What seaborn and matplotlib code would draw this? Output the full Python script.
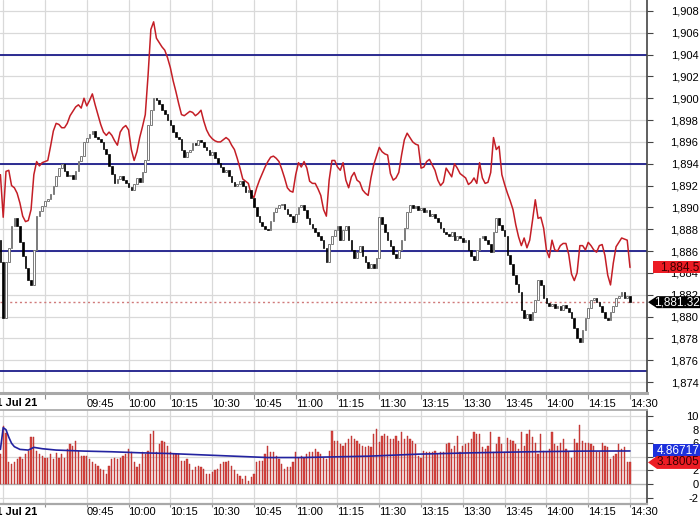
import numpy as np
import pandas as pd
import matplotlib
matplotlib.use("Agg")
import matplotlib.pyplot as plt
import matplotlib.transforms as mtransforms
from matplotlib.patches import Polygon
from matplotlib.ticker import FuncFormatter
import seaborn as sns

# Cotacoes de 1 minuto (fechamento), a abertura e o fechamento anterior
first_open = 1887.00
closes = [
    1884.99, 1879.85, 1884.99, 1886.27, 1888.28, 1889.02, 1888.28, 1886.82, 1885.53, 1884.44,
    1883.34, 1882.88, 1886.08, 1889.20, 1889.66, 1890.12, 1890.58, 1890.76, 1891.22, 1891.95,
    1892.87, 1893.60, 1893.97, 1893.33, 1892.87, 1892.96, 1892.59, 1893.33, 1894.24, 1894.70,
    1895.98, 1896.35, 1896.72, 1896.99, 1896.44, 1896.26, 1895.98, 1895.34, 1894.88, 1893.78,
    1893.05, 1892.23, 1892.59, 1892.87, 1892.50, 1892.23, 1891.86, 1891.58, 1892.13, 1892.68,
    1892.32, 1893.23, 1894.33, 1897.54, 1898.92, 1900.02, 1899.83, 1899.47, 1898.92, 1898.55,
    1898.00, 1897.54, 1896.90, 1896.44, 1896.26, 1895.25, 1894.61, 1895.07, 1895.25, 1895.89,
    1895.71, 1896.17, 1895.98, 1895.53, 1895.25, 1894.79, 1895.07, 1894.52, 1894.06, 1893.69,
    1893.23, 1893.42, 1892.87, 1892.32, 1891.95, 1892.13, 1892.41, 1891.95, 1891.40, 1891.58,
    1890.85, 1890.03, 1889.20, 1888.65, 1888.28, 1888.01, 1887.92, 1888.74, 1889.57, 1889.93,
    1890.21, 1890.30, 1889.84, 1889.38, 1889.20, 1888.65, 1889.38, 1890.03, 1890.21, 1889.75,
    1889.02, 1888.47, 1888.10, 1887.73, 1887.37, 1887.00, 1886.27, 1884.99, 1886.64, 1887.37,
    1887.92, 1888.28, 1887.00, 1887.92, 1888.28, 1887.00, 1886.08, 1885.35, 1885.90, 1886.45,
    1885.53, 1884.99, 1884.44, 1884.80, 1884.44, 1885.35, 1889.11, 1888.47, 1887.73, 1887.00,
    1886.45, 1885.72, 1885.35, 1886.08, 1887.00, 1888.10, 1889.57, 1890.21, 1889.93, 1890.12,
    1889.75, 1889.93, 1889.57, 1889.75, 1889.20, 1889.38, 1889.02, 1888.65, 1888.10, 1887.73,
    1887.55, 1887.37, 1887.73, 1887.00, 1887.37, 1887.18, 1886.82, 1887.00, 1886.08, 1885.53,
    1885.17, 1886.08, 1887.18, 1887.37, 1887.00, 1886.64, 1885.90, 1887.73, 1889.02, 1888.38,
    1887.92, 1887.37, 1885.63, 1884.80, 1883.79, 1882.97, 1882.24, 1880.59, 1879.85, 1880.22,
    1879.67, 1880.40, 1881.50, 1883.34, 1882.88, 1881.69, 1881.23, 1880.95, 1881.14, 1880.77,
    1880.95, 1880.59, 1881.04, 1880.77, 1880.40, 1879.85, 1878.94, 1878.02, 1877.65, 1878.75,
    1879.85, 1880.77, 1881.50, 1881.69, 1881.32, 1880.95, 1880.40, 1879.85, 1879.67, 1880.40,
    1880.95, 1881.69, 1881.87, 1882.24, 1881.69, 1881.87, 1881.32,
]

# Serie de comparacao (linha vermelha)
red_line = [
    1893.0, 1889.1, 1893.3, 1893.4, 1892.0, 1891.8, 1891.3, 1890.4, 1889.2, 1888.7,
    1888.8, 1889.8, 1893.0, 1894.2, 1893.8, 1894.1, 1894.2, 1894.3, 1895.6, 1897.0,
    1897.7, 1897.6, 1897.3, 1897.3, 1897.7, 1898.4, 1898.8, 1899.2, 1899.4, 1899.1,
    1900.0, 1899.3, 1899.8, 1900.4, 1899.4, 1898.5, 1897.6, 1896.9, 1896.6, 1896.9,
    1896.6, 1896.1, 1895.7, 1896.9, 1897.3, 1897.5, 1897.1, 1895.3, 1894.3, 1895.1,
    1896.4, 1897.4, 1898.5, 1902.1, 1906.3, 1907.0, 1905.5, 1905.1, 1904.7, 1904.4,
    1903.7, 1902.8, 1901.6, 1900.6, 1899.5, 1898.5, 1898.4, 1898.6, 1898.8, 1898.7,
    1898.4, 1898.6, 1898.9, 1897.9, 1897.1, 1896.6, 1896.3, 1896.1, 1896.0, 1896.0,
    1896.2, 1896.4, 1896.2, 1895.7, 1895.3, 1894.5, 1893.6, 1892.6, 1892.4, 1892.2,
    1891.2, 1890.9, 1891.8, 1892.5, 1893.1, 1893.7, 1894.2, 1894.6, 1894.7, 1894.5,
    1894.2, 1893.5, 1892.7, 1891.8, 1891.5, 1891.4, 1893.0, 1894.1, 1893.7, 1894.2,
    1893.6, 1892.4, 1892.2, 1892.2, 1891.7, 1891.1, 1889.8, 1889.2, 1892.5, 1894.3,
    1894.3, 1893.7, 1893.4, 1894.1, 1892.5, 1891.8, 1892.8, 1893.2, 1892.5, 1892.3,
    1891.6, 1891.3, 1891.1, 1892.7, 1893.9, 1894.7, 1895.5, 1895.1, 1894.9, 1894.8,
    1893.1, 1892.5, 1892.7, 1893.2, 1894.8, 1896.2, 1896.8, 1896.4, 1896.0, 1895.8,
    1895.7, 1893.6, 1893.7, 1894.2, 1894.4, 1893.9, 1893.4, 1892.5, 1892.0, 1892.3,
    1893.6, 1893.2, 1892.8, 1894.0, 1893.6, 1893.1, 1892.9, 1892.7, 1892.1, 1892.3,
    1892.7, 1892.2, 1894.1, 1892.7, 1892.2, 1892.3, 1893.2, 1896.4, 1895.3, 1895.6,
    1893.0, 1892.1, 1891.3, 1890.6, 1889.8, 1888.4, 1887.3, 1886.5, 1887.2, 1886.3,
    1887.0, 1888.8, 1890.7, 1889.0, 1889.1, 1888.1, 1886.1, 1885.4, 1887.0, 1886.1,
    1886.0, 1886.5, 1886.7, 1886.7, 1885.7, 1883.9, 1883.3, 1884.0, 1886.5, 1886.5,
    1886.1, 1886.8, 1886.5, 1886.1, 1885.9, 1886.5, 1886.6, 1885.6, 1883.8, 1882.9,
    1884.9, 1886.4, 1886.8, 1887.2, 1887.1, 1887.0, 1884.5,
]

# Volume por minuto
volume = [
    4.4, 8.6, 7.5, 3.2, 2.9, 3.2, 3.7, 4.0, 3.7, 4.4,
    4.9, 6.9, 6.9, 4.9, 4.4, 4.2, 3.9, 3.9, 4.4, 3.7,
    4.5, 3.9, 4.4, 3.9, 5.1, 5.9, 5.6, 6.4, 4.9, 4.2,
    4.2, 4.2, 3.7, 3.2, 2.9, 2.7, 2.2, 2.0, 1.5, 2.7,
    3.7, 3.9, 3.7, 3.9, 4.2, 4.4, 5.1, 4.7, 3.2, 2.5,
    2.9, 4.7, 4.4, 4.9, 7.4, 7.8, 4.7, 5.9, 6.3, 6.2,
    5.6, 4.7, 4.4, 4.4, 4.4, 3.4, 3.4, 3.7, 2.9, 2.0,
    2.5, 2.7, 2.5, 2.2, 1.5, 1.5, 1.7, 2.0, 2.2, 2.9,
    3.2, 3.2, 3.4, 2.7, 2.0, 1.5, 1.2, 0.7, 1.2, 0.5,
    1.0, 1.5, 3.2, 3.4, 3.4, 4.4, 5.6, 4.7, 4.7, 4.2,
    3.7, 2.9, 2.2, 2.5, 2.5, 3.2, 4.7, 3.9, 4.2, 3.9,
    4.4, 4.7, 4.7, 5.1, 4.7, 4.4, 3.9, 3.7, 4.9, 7.8,
    6.4, 6.4, 5.9, 5.6, 6.1, 6.6, 7.1, 6.6, 6.3, 5.9,
    5.6, 5.4, 5.6, 5.4, 7.3, 8.1, 6.2, 7.1, 7.4, 7.1,
    6.6, 6.7, 7.1, 6.4, 7.6, 6.7, 7.1, 6.6, 6.4, 5.9,
    4.2, 3.9, 4.9, 4.7, 4.7, 4.7, 4.9, 4.4, 4.7, 4.7,
    5.9, 6.1, 5.1, 5.6, 7.1, 4.7, 5.6, 5.9, 6.1, 6.6,
    7.6, 7.4, 7.4, 5.4, 5.1, 5.6, 7.6, 4.7, 5.9, 6.9,
    5.9, 4.7, 6.8, 6.5, 6.4, 5.9, 5.1, 7.7, 5.6, 7.4,
    8.0, 6.9, 6.1, 4.4, 7.4, 4.9, 4.7, 5.1, 7.7, 5.9,
    5.6, 6.1, 6.7, 5.1, 4.7, 3.9, 6.7, 6.1, 8.7, 6.3,
    6.1, 6.1, 5.9, 5.6, 4.7, 4.7, 6.1, 5.6, 5.4, 3.7,
    4.2, 4.4, 5.9, 5.1, 5.4, 3.3, 3.18005,
]

# Media do volume (linha azul), lida em alguns pontos
avg_bars = [0, 1, 2, 3, 4, 5, 7, 10, 12, 15, 20, 30, 40, 50, 60, 72, 84, 96, 108,
            120, 132, 150, 170, 190, 210, 226]
avg_values = [5.1, 8.3, 8.0, 6.9, 6.0, 5.5, 5.1, 5.0, 5.4, 5.2, 5.0, 4.85, 4.75, 4.6, 4.5,
              4.3, 4.1, 3.9, 3.9, 4.0, 4.1, 4.4, 4.6, 4.75, 4.85, 4.86717]

levels = [1904, 1894, 1886, 1875]
last_price = 1881.32
last_red = 1884.5
last_avg = 4.86717
last_vol = 3.18005

tick_bars = [31, 46, 61, 76, 91, 106, 121, 136, 151, 166, 181, 196, 211, 226]
tick_labels = ['09:45', '10:00', '10:15', '10:30', '10:45', '11:00', '11:15', '11:30',
               '13:15', '13:30', '13:45', '14:00', '14:15', '14:30']
date_bar = 16
date_label = '21 Jul 21'
grid_bars = [1, 16] + tick_bars

# Monta o DataFrame
df = pd.DataFrame({'close': closes, 'red': red_line, 'volume': volume})
df['bar'] = np.arange(len(df))
df['open'] = df['close'].shift(1).fillna(first_open)
df['lo'] = df[['open', 'close']].min(axis=1)
df['h'] = (df['close'] - df['open']).abs().clip(lower=0.14)
up = df['close'] >= df['open']

sns.set_theme(style="white")
plt.rcParams['font.family'] = ['Liberation Sans', 'DejaVu Sans']

W, H = 700, 519
fig = plt.figure(figsize=(7, 5.19), dpi=100)
ax = fig.add_axes([0, 1 - 393 / H, 647 / W, 393 / H])
axv = fig.add_axes([0, 1 - 504 / H, 647 / W, 94 / H])

grid_c = '#d9d9d9'
for a, tlen in ((ax, 4), (axv, 2)):
    a.set_xlim(-0.15, 232.1)
    for b in grid_bars:
        a.axvline(b, color=grid_c, lw=0.9, zorder=0)
    a.grid(True, axis='y', color=grid_c, lw=0.9, zorder=0)
    a.set_axisbelow(True)
    a.spines['top'].set_visible(False)
    a.spines['left'].set_visible(False)
    a.spines['right'].set_color('#444444')
    a.spines['right'].set_linewidth(1.2)
    a.spines['bottom'].set_color('#a8a8a8')
    a.yaxis.tick_right()
    a.tick_params(axis='y', right=True, left=False, length=4, width=0.8,
                  color='#444444', labelsize=8, labelcolor='black', pad=33)
    a.tick_params(axis='x', bottom=True, length=tlen, width=0.8, color='#909090',
                  labelsize=8, labelcolor='black', pad=0.3)
    a.set_xticks([date_bar] + tick_bars)
    a.set_xticklabels([''] + tick_labels)
    for lbl in a.get_xticklabels():
        lbl.set_horizontalalignment('left')

ax.spines['bottom'].set_linewidth(2.2)
axv.spines['bottom'].set_linewidth(1.6)
axv.spines['top'].set_visible(True)
axv.spines['top'].set_color('#a8a8a8')

# Painel de precos
ax.set_ylim(1873.0, 1909.0)
ax.set_yticks(np.arange(1874, 1909, 2))
ax.yaxis.set_major_formatter(FuncFormatter(lambda v, p: f"{v:,.0f}"))
for lbl in ax.get_yticklabels():
    lbl.set_horizontalalignment('right')

for lv in levels:
    ax.axhline(lv, color='#1c1c8a', lw=1.3, zorder=2)
ax.axhline(last_price, color='#d07a7a', lw=1.0, ls=(0, (1.5, 2)), zorder=2)

sns.lineplot(x=df['bar'], y=df['red'], ax=ax, color='#c41e26', linewidth=1.1,
             legend=False, zorder=4)

ax.bar(df['bar'][up], df['h'][up], bottom=df['lo'][up], width=0.58, color='white',
       edgecolor='#7a7a7a', linewidth=0.7, zorder=5)
ax.bar(df['bar'][~up], df['h'][~up], bottom=df['lo'][~up], width=0.58, color='black',
       edgecolor='black', linewidth=0.5, zorder=5)
ax.set_xlabel('')
ax.set_ylabel('')

# Painel de volume
axv.set_ylim(-2.94, 10.9)
axv.set_yticks(np.arange(-2, 11, 2))
axv.yaxis.set_major_formatter(FuncFormatter(lambda v, p: f"{v:.0f}"))
for lbl in axv.get_yticklabels():
    lbl.set_horizontalalignment('right')
axv.axhline(0, color='#b0b0b0', lw=0.9, zorder=1)
axv.bar(df['bar'], df['volume'], width=0.45, color='#d8453f', edgecolor='#b02a2a',
        linewidth=0.3, zorder=3)
sns.lineplot(x=avg_bars, y=avg_values, ax=axv, color='#2323a0', linewidth=1.2,
             legend=False, zorder=4)
axv.set_xlabel('')
axv.set_ylabel('')

# Rotulo da data
for a, yoff in ((ax, -10 / 393), (axv, -8 / 94)):
    tr = mtransforms.blended_transform_factory(a.transData, a.transAxes)
    a.text(date_bar - 2.9, yoff, date_label, transform=tr, ha='right', va='center',
           fontsize=8, fontweight='bold', color='black', clip_on=False)

# Caixas de valores no eixo direito
def flag(a, value, text, fc, tc, half, arrow):
    tr = mtransforms.blended_transform_factory(fig.transFigure, a.transData)
    x0 = 648 / W if arrow else 653 / W
    x1 = 657 / W if arrow else 653 / W
    pts = [(x0, value), (x1, value + half), (1.0, value + half),
           (1.0, value - half), (x1, value - half)]
    a.add_patch(Polygon(pts, closed=True, transform=tr, facecolor=fc,
                        edgecolor='none', clip_on=False, zorder=10))
    a.text(699.5 / W, value, text, transform=tr, ha='right', va='center',
           fontsize=8.5, color=tc, clip_on=False, zorder=11)

flag(ax, last_red, f"{last_red:,.1f}", '#ec1c24', '#3a0000', 6 / 10.91, False)
flag(ax, last_price, f"{last_price:,.2f}", 'black', 'white', 6 / 10.91, True)
flag(axv, last_avg, f"{last_avg:.5f}", '#1c30dc', 'white', 6.5 / 6.8, False)
flag(axv, last_vol, f"{last_vol:.5f}", '#ec1c24', '#3a0000', 6.5 / 6.8, True)

fig.savefig('out.png', dpi=100)
